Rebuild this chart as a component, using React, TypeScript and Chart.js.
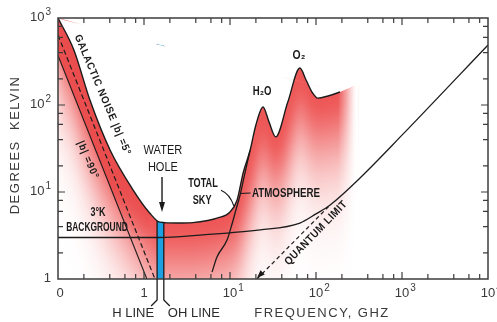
import React, { useEffect, useRef } from "react";
import { Chart, registerables } from "chart.js";

Chart.register(...registerables);

// ---------------- axis ticks ----------------
const freqTicks = [0.1, 1, 10, 100, 1000, 10000];
const freqTickLabels = ["0", "1", "10^1", "10^2", "10^3", "10^4"];
const tempTicks = [1, 10, 100, 1000];
const tempTickLabels = ["1", "10^1", "10^2", "10^3"];
const minorSteps = [2, 4, 6, 8];

// ---------------- curves (frequency GHz, temperature K) ----------------
const totalSkyFreq = [0.1, 0.153, 0.235, 0.403, 0.745, 1.17, 1.53, 2.4, 3.7, 5.5, 7.06, 10, 12.1, 14.2, 17.1, 20, 24.2, 28.4, 34, 47, 65, 76.6, 89.8, 105, 138, 190, 280];
const totalSkyTemp = [1000, 429, 114, 30.4, 10.6, 5.7, 4.5, 4.4, 4.45, 4.7, 5.0, 5.9, 8.1, 16.5, 30, 59, 95, 64, 43, 108, 266, 194, 141, 120, 127, 141, 165];
const totalSkyLineEnd = 190; // outline stops here, shading continues
const galacticBandEnd = 1.17; // dark galactic band follows the curve up to here

const galactic5Freq = [0.1, 1.34];
const galactic5Temp = [638, 1];
const galactic90Freq = [0.1, 1.08];
const galactic90Temp = [371, 1];

const backgroundFreq = [0.1, 1.5, 4.5, 22.4, 65, 100, 146, 325, 1000, 10000];
const backgroundTemp = [3.0, 3.0, 3.2, 3.66, 4.4, 5.6, 7.1, 14.5, 45, 490];

const quantumFreq = [20.6, 140];
const quantumTemp = [1, 6.8];

const atmosphereFreq = [6.18, 7.06, 9.23, 10.5, 11.7, 13.1, 14.5, 17.1];
const atmosphereTemp = [1.2, 1.79, 2.8, 4.2, 6.2, 9.2, 14.5, 30];

const hLineFreq = 1.42;
const ohLineFreq = 1.7;
const waterHoleArrowFreq = 1.62;
const waterHoleArrowTemp = [14.9, 5.9];

// ---------------- annotation text ----------------
type Note = { text: string; f: number; t: number; angle?: number; size: number; sx?: number; ls?: number; align?: CanvasTextAlign; weight?: string };
const notes: Note[] = [
  { text: "GALACTIC NOISE |b| =5°", f: 0.33, t: 130, angle: 67, size: 10.5, sx: 0.92, ls: 0.8, weight: "bold" },
  { text: "|b| =90°", f: 0.223, t: 23.3, angle: 67, size: 10.5, sx: 0.9, ls: 1, weight: "bold" },
  { text: "WATER", f: 1.66, t: 30.4, size: 13, sx: 0.85 },
  { text: "HOLE", f: 1.66, t: 19.4, size: 13, sx: 0.85 },
  { text: "TOTAL", f: 4.85, t: 12.7, size: 13, sx: 0.7, weight: "bold" },
  { text: "SKY", f: 4.74, t: 8.1, size: 13, sx: 0.7, weight: "bold" },
  { text: "ATMOSPHERE", f: 18, t: 9.75, size: 13, sx: 0.75, align: "left", weight: "bold" },
  { text: "3°K", f: 0.292, t: 5.74, size: 12, sx: 0.75, weight: "bold" },
  { text: "BACKGROUND", f: 0.284, t: 3.86, size: 12, sx: 0.7, weight: "bold" },
  { text: "H₂O", f: 23.6, t: 141, size: 12, sx: 0.8, weight: "bold" },
  { text: "O₂", f: 63.4, t: 376, size: 13, sx: 0.8, weight: "bold" },
  { text: "QUANTUM LIMIT", f: 100, t: 3.38, angle: -46, size: 11, sx: 0.9, ls: 0.5, weight: "bold" },
];

const pts = (xs: number[], ys: number[]) => xs.map((x, i) => ({ x, y: ys[i] }));

function drawText(ctx: CanvasRenderingContext2D, text: string, x: number, y: number, o: { font: string; angle?: number; sx?: number; ls?: number; align?: CanvasTextAlign; color?: string; baseline?: CanvasTextBaseline }) {
  ctx.save();
  ctx.translate(x, y);
  if (o.angle) ctx.rotate((o.angle * Math.PI) / 180);
  ctx.scale(o.sx ?? 1, 1);
  ctx.font = o.font;
  ctx.fillStyle = o.color ?? "#1a1a1a";
  ctx.textAlign = o.align ?? "center";
  ctx.textBaseline = o.baseline ?? "middle";
  (ctx as any).letterSpacing = `${o.ls ?? 0}px`;
  ctx.fillText(text, 0, 0);
  ctx.restore();
}

function tickLabel(ctx: CanvasRenderingContext2D, label: string, x: number, y: number, mode: "center" | "right") {
  const [base, exp] = label.split("^");
  ctx.save();
  ctx.fillStyle = "#3a3a3a";
  ctx.textBaseline = "middle";
  ctx.font = "13px 'Liberation Sans', sans-serif";
  const wb = ctx.measureText(base).width;
  ctx.font = "10px 'Liberation Sans', sans-serif";
  const we = exp ? ctx.measureText(exp).width + 1 : 0;
  const startX = mode === "center" ? x - wb / 2 : x - wb - we;
  ctx.textAlign = "left";
  ctx.font = "13px 'Liberation Sans', sans-serif";
  ctx.fillText(base, startX, y);
  if (exp) {
    ctx.font = "10px 'Liberation Sans', sans-serif";
    ctx.fillText(exp, startX + wb + 1, y - 5);
  }
  ctx.restore();
}

const waterHolePlugin = {
  id: "waterHole",
  beforeDatasetsDraw(chart: any) {
    const { ctx, chartArea: ca } = chart;
    const xs = chart.scales.x;
    const ys = chart.scales.y;
    const meta = chart.getDatasetMeta(0);
    const line = meta.dataset;
    if (line.updateControlPoints) line.updateControlPoints(ca, "x");
    const curve = new Path2D();
    line.path(curve);
    const first = meta.data[0];
    const last = meta.data[meta.data.length - 1];
    const under = new Path2D();
    line.path(under);
    under.lineTo(last.x + 4, last.y);
    under.lineTo(last.x + 4, ca.bottom + 2);
    under.lineTo(ca.left - 2, ca.bottom + 2);
    under.lineTo(ca.left - 2, first.y);
    under.closePath();

    // shading that fades away below the sky curve, drawn off-screen then softened
    const off = document.createElement("canvas");
    off.width = chart.width;
    off.height = chart.height;
    const oc = off.getContext("2d") as CanvasRenderingContext2D;
    const base = [238, 86, 86];
    const D = 72, step = 3, steps = 75;
    for (let k = steps; k >= -6; k--) {
      const d = k * step;
      const a = d <= 0 ? 1 : Math.exp(-Math.pow(d / D, 1.6));
      const c = base.map((b) => Math.round(255 - (255 - b) * a));
      oc.save();
      oc.translate(0, d);
      oc.lineWidth = step * 2 + 1;
      oc.strokeStyle = `rgb(${c[0]},${c[1]},${c[2]})`;
      oc.stroke(curve);
      oc.restore();
    }

    ctx.save();
    ctx.beginPath();
    ctx.rect(ca.left, ca.top, ca.right - ca.left, ca.bottom - ca.top);
    ctx.clip();
    ctx.clip(under);
    ctx.filter = "blur(5px)";
    ctx.drawImage(off, 0, 0);
    ctx.filter = "none";

    // dark galactic band between the sky curve and the |b|=90° line
    const bandCount = totalSkyFreq.indexOf(galacticBandEnd) + 1;
    const band = new Path2D();
    line.path(band, 0, bandCount);
    band.lineTo(xs.getPixelForValue(galactic90Freq[1]), ys.getPixelForValue(galactic90Temp[1]));
    band.lineTo(xs.getPixelForValue(galactic90Freq[0]), ys.getPixelForValue(galactic90Temp[0]));
    band.lineTo(first.x, first.y);
    band.closePath();
    const bg = ctx.createLinearGradient(0, ys.getPixelForValue(12), 0, ys.getPixelForValue(3));
    bg.addColorStop(0, "rgba(234,76,76,0.95)");
    bg.addColorStop(1, "rgba(234,76,76,0)");
    ctx.fillStyle = bg;
    ctx.fill(band);

    // fade-out at the right end of the shading
    const fx0 = xs.getPixelForValue(totalSkyLineEnd) - 2;
    const fx1 = last.x + 2;
    const wg = ctx.createLinearGradient(fx0, 0, fx1, 0);
    wg.addColorStop(0, "rgba(255,255,255,0)");
    wg.addColorStop(1, "rgba(255,255,255,1)");
    ctx.fillStyle = wg;
    ctx.fillRect(fx0, ca.top, fx1 - fx0 + 10, ca.bottom - ca.top);

    // water hole bar
    const hx = xs.getPixelForValue(hLineFreq);
    const ox = xs.getPixelForValue(ohLineFreq);
    ctx.fillStyle = "rgb(28,160,226)";
    ctx.fillRect(hx, ca.top, ox - hx, ca.bottom - ca.top);
    ctx.strokeStyle = "#1a1a1a";
    ctx.lineWidth = 1.3;
    ctx.beginPath();
    ctx.moveTo(hx, ca.top);
    ctx.lineTo(hx, ca.bottom);
    ctx.moveTo(ox, ca.top);
    ctx.lineTo(ox, ca.bottom);
    ctx.stroke();
    ctx.restore();
  },
  afterDraw(chart: any) {
    const { ctx, chartArea: ca } = chart;
    const xs = chart.scales.x;
    const ys = chart.scales.y;
    const px = (v: number) => xs.getPixelForValue(v);
    const py = (v: number) => ys.getPixelForValue(v);

    ctx.save();
    // frame
    ctx.strokeStyle = "#3c3c3c";
    ctx.lineWidth = 1.5;
    ctx.strokeRect(ca.left, ca.top, ca.right - ca.left, ca.bottom - ca.top);

    // inward ticks on all four sides
    const xMinor: number[] = [];
    for (let i = 0; i < freqTicks.length - 1; i++) minorSteps.forEach((m) => xMinor.push(freqTicks[i] * m));
    const yMinor: number[] = [];
    for (let i = 0; i < tempTicks.length - 1; i++) minorSteps.forEach((m) => yMinor.push(tempTicks[i] * m));
    ctx.lineWidth = 1.2;
    ctx.beginPath();
    const xt = (v: number, len: number) => {
      const x = px(v);
      if (x <= ca.left + 1 || x >= ca.right - 1) return;
      ctx.moveTo(x, ca.bottom); ctx.lineTo(x, ca.bottom - len);
      ctx.moveTo(x, ca.top); ctx.lineTo(x, ca.top + len);
    };
    const yt = (v: number, len: number) => {
      const y = py(v);
      if (y <= ca.top + 1 || y >= ca.bottom - 1) return;
      ctx.moveTo(ca.left, y); ctx.lineTo(ca.left + len, y);
      ctx.moveTo(ca.right, y); ctx.lineTo(ca.right - len, y);
    };
    freqTicks.forEach((v) => xt(v, 7));
    xMinor.forEach((v) => xt(v, 5));
    tempTicks.forEach((v) => yt(v, 7));
    yMinor.forEach((v) => yt(v, 5));
    ctx.stroke();

    // tick labels
    freqTicks.forEach((v, i) => tickLabel(ctx, freqTickLabels[i], px(v) + (i === 0 ? 2 : 0), ca.bottom + 14, "center"));
    tempTicks.forEach((v, i) => tickLabel(ctx, tempTickLabels[i], ca.left - 7, py(v) - 1, "right"));

    // axis titles
    drawText(ctx, "DEGREES  KELVIN", 15, 145, { font: "13px 'Liberation Sans', sans-serif", angle: -90, ls: 1.5, color: "#3a3a3a" });
    drawText(ctx, "FREQUENCY, GHZ", 322, 313, { font: "13px 'Liberation Sans', sans-serif", ls: 1.5, color: "#3a3a3a" });

    // H / OH line brackets
    const hx = px(hLineFreq);
    const ox = px(ohLineFreq);
    ctx.strokeStyle = "#1a1a1a";
    ctx.lineWidth = 1.3;
    ctx.beginPath();
    ctx.moveTo(hx, ca.bottom); ctx.lineTo(hx, 300); ctx.lineTo(hx - 6, 306);
    ctx.moveTo(ox, ca.bottom); ctx.lineTo(ox, 300); ctx.lineTo(ox + 6, 306);
    ctx.stroke();
    drawText(ctx, "H LINE", hx - 3, 313, { font: "13px 'Liberation Sans', sans-serif", align: "right", color: "#2a2a2a" });
    drawText(ctx, "OH LINE", ox + 4, 313, { font: "13px 'Liberation Sans', sans-serif", align: "left", color: "#2a2a2a" });

    // water hole arrow
    const ax = px(waterHoleArrowFreq);
    const ay0 = py(waterHoleArrowTemp[0]);
    const ay1 = py(waterHoleArrowTemp[1]);
    ctx.lineWidth = 1.4;
    ctx.beginPath(); ctx.moveTo(ax, ay0); ctx.lineTo(ax, ay1 - 8); ctx.stroke();
    ctx.fillStyle = "#1a1a1a";
    ctx.beginPath(); ctx.moveTo(ax - 3, ay1 - 10); ctx.lineTo(ax + 3, ay1 - 10); ctx.lineTo(ax, ay1); ctx.closePath(); ctx.fill();

    // quantum limit arrowhead
    const qx0 = px(quantumFreq[0]), qy0 = py(quantumTemp[0]);
    const qx1 = px(quantumFreq[1]), qy1 = py(quantumTemp[1]);
    const ang = Math.atan2(qy0 - qy1, qx0 - qx1);
    ctx.save();
    ctx.translate(qx0, qy0 - 1);
    ctx.rotate(ang);
    ctx.beginPath(); ctx.moveTo(0, 0); ctx.lineTo(-8, -3); ctx.lineTo(-8, 3); ctx.closePath(); ctx.fill();
    ctx.restore();

    // total sky leader
    ctx.lineWidth = 1.1;
    ctx.beginPath();
    ctx.moveTo(px(7.85), py(10.5));
    ctx.quadraticCurveTo(px(10), py(9.5), px(11.1), py(6.9));
    ctx.stroke();
    // atmosphere leader
    ctx.beginPath();
    ctx.moveTo(px(13.3), py(9.6));
    ctx.lineTo(px(17.3), py(9.75));
    ctx.stroke();

    notes.forEach((n) =>
      drawText(ctx, n.text, px(n.f), py(n.t), {
        font: `${n.weight ?? "normal"} ${n.size}px 'Liberation Sans', sans-serif`,
        angle: n.angle,
        sx: n.sx,
        ls: n.ls,
        align: n.align,
      })
    );
    ctx.restore();
  },
};

export default function App() {
  const ref = useRef<HTMLCanvasElement>(null);
  useEffect(() => {
    const canvas = ref.current;
    if (!canvas) return;
    const lineBase = { pointRadius: 0, borderColor: "#1c1c1c", fill: false, tension: 0 };
    const chart = new Chart(canvas, {
      type: "line",
      data: {
        datasets: [
          {
            ...lineBase,
            data: pts(totalSkyFreq, totalSkyTemp),
            borderWidth: 1.4,
            cubicInterpolationMode: "monotone",
            segment: {
              borderColor: (c: any) => (totalSkyFreq[c.p0DataIndex] >= totalSkyLineEnd ? "rgba(0,0,0,0)" : "#1c1c1c"),
            },
          } as any,
          { ...lineBase, data: pts(galactic5Freq, galactic5Temp), borderWidth: 1.2, borderDash: [5, 3] },
          { ...lineBase, data: pts(galactic90Freq, galactic90Temp), borderWidth: 1.1 },
          { ...lineBase, data: pts(backgroundFreq, backgroundTemp), borderWidth: 1.3, cubicInterpolationMode: "monotone" } as any,
          { ...lineBase, data: pts(quantumFreq, quantumTemp), borderWidth: 1.2, borderDash: [4, 3] },
          { ...lineBase, data: pts(atmosphereFreq, atmosphereTemp), borderWidth: 1.3, cubicInterpolationMode: "monotone" } as any,
        ],
      },
      options: {
        animation: false,
        responsive: false,
        devicePixelRatio: 1,
        layout: { padding: { top: 18, right: 9, left: 0, bottom: 0 } },
        plugins: { legend: { display: false }, tooltip: { enabled: false } },
        scales: {
          x: {
            type: "logarithmic",
            min: 0.1,
            max: 10000,
            grid: { display: false, drawTicks: false },
            border: { display: false },
            ticks: { display: false },
            afterFit: (s: any) => { s.height = 43; },
          },
          y: {
            type: "logarithmic",
            min: 1,
            max: 1000,
            grid: { display: false, drawTicks: false },
            border: { display: false },
            ticks: { display: false },
            afterFit: (s: any) => { s.width = 58; },
          },
        },
      } as any,
      plugins: [waterHolePlugin],
    });
    return () => chart.destroy();
  }, []);
  return (
    <div style={{ position: "absolute", left: 0, top: 0, width: 497, height: 322, background: "#fff" }}>
      <canvas ref={ref} width={497} height={322} style={{ display: "block", width: 497, height: 322 }} />
    </div>
  );
}
